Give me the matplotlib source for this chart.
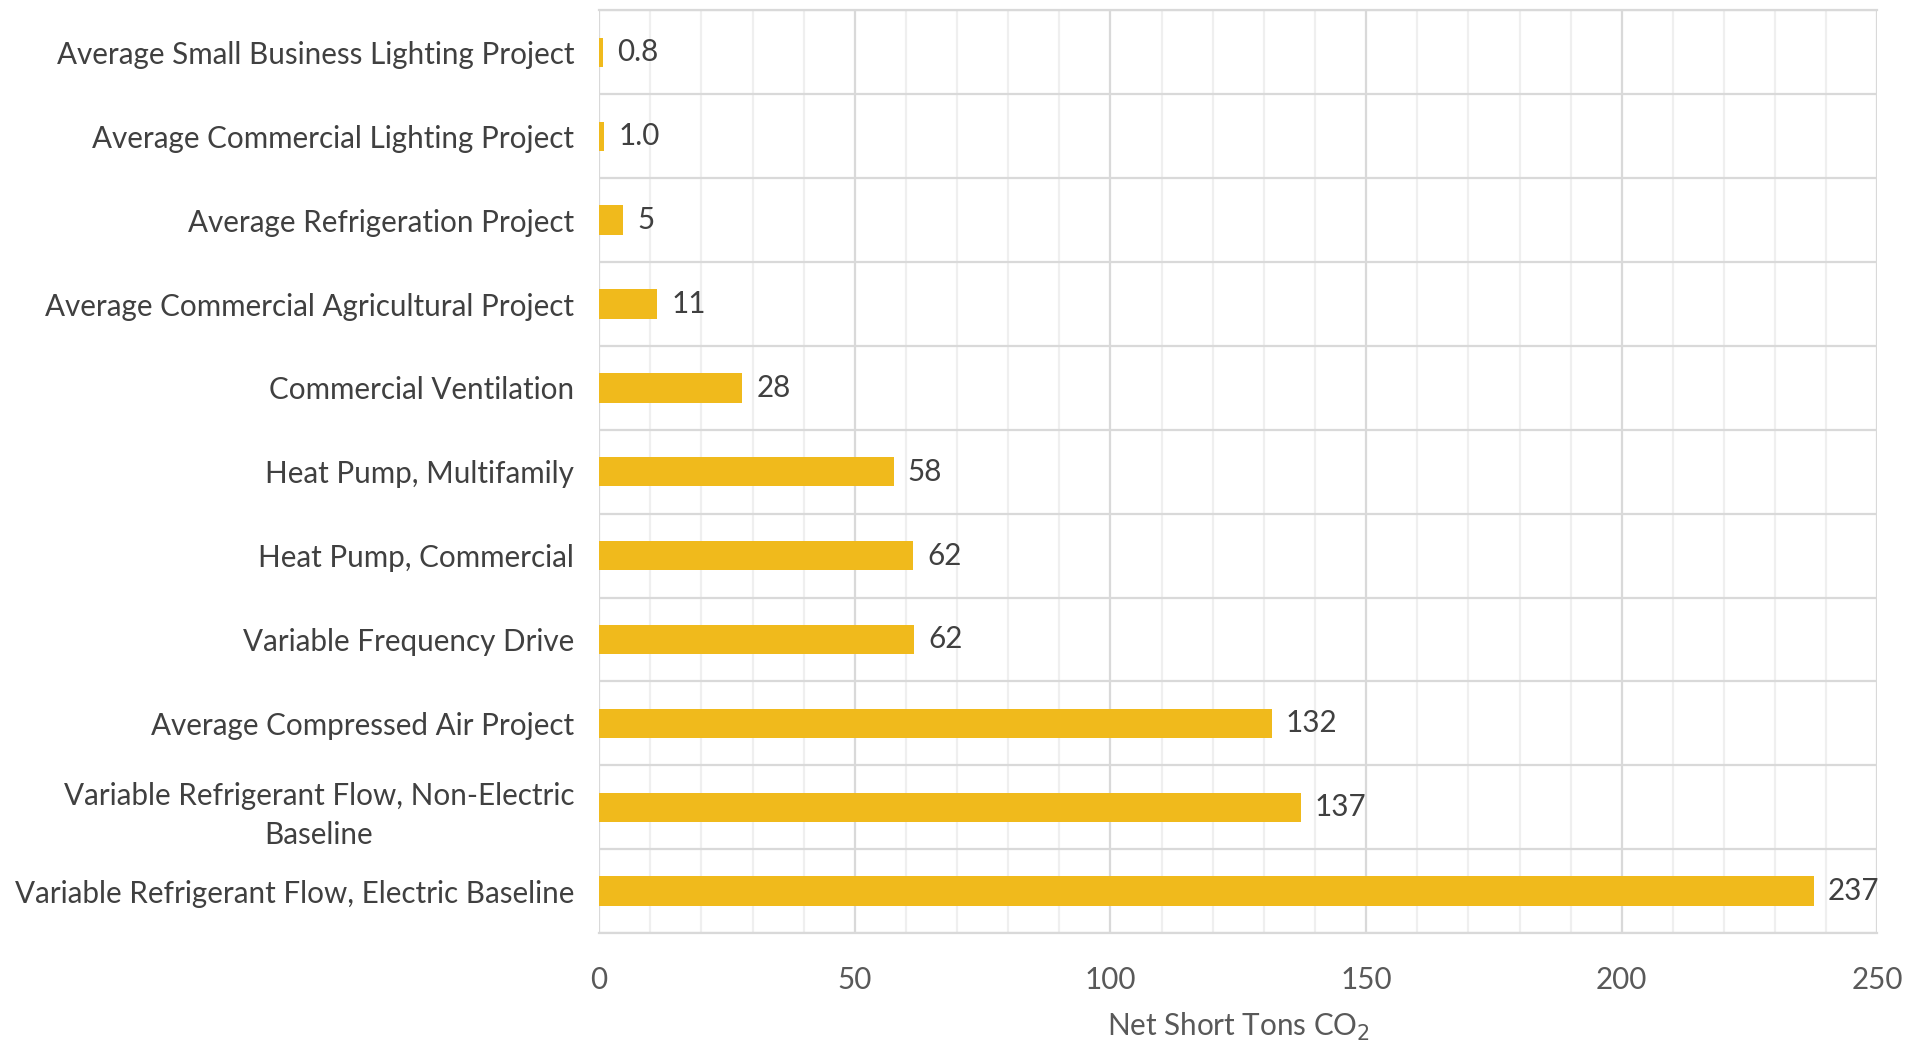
import matplotlib.pyplot as plt
import numpy as np

# data (top to bottom)
projects = [
    "Average Small Business Lighting Project",
    "Average Commercial Lighting Project",
    "Average Refrigeration Project",
    "Average Commercial Agricultural Project",
    "Commercial Ventilation",
    "Heat Pump, Multifamily",
    "Heat Pump, Commercial",
    "Variable Frequency Drive",
    "Average Compressed Air Project",
    "Variable Refrigerant Flow, Non-Electric\nBaseline",
    "Variable Refrigerant Flow, Electric Baseline",
]
tons = [0.8, 1.0, 4.7, 11.4, 28.0, 57.6, 61.4, 61.6, 131.5, 137.2, 237.5]
value_labels = ["0.8", "1.0", "5", "11", "28", "58", "62", "62", "132", "137", "237"]

plt.rcParams['font.family'] = ['Lato', 'DejaVu Sans']
text_col = '#404040'
fs = 21.3

fig = plt.figure(figsize=(19.08, 10.46), dpi=100)
ax = fig.add_axes([0.314, 0.108, 0.670, 0.882])

y = np.arange(len(projects))
bars = ax.barh(y, tons, height=0.35, color='#F0BA1C', zorder=3)
ax.bar_label(bars, labels=value_labels, padding=10, fontsize=fs, color=text_col)

ax.set_xlim(0, 250)
ax.set_ylim(len(projects) - 0.5, -0.5)

# gridlines: major every 50, minor every 10, horizontal at category edges
ax.set_xticks(np.arange(0, 251, 50))
ax.set_xticks(np.arange(0, 251, 10), minor=True)
ax.set_yticks(y)
ax.set_yticks(np.arange(-0.5, len(projects), 1), minor=True)
ax.grid(axis='x', which='major', color='#d9d9d9', linewidth=1.6, zorder=0)
ax.grid(axis='x', which='minor', color='#efefef', linewidth=1.6, zorder=0)
ax.grid(axis='y', which='minor', color='#d9d9d9', linewidth=1.6, zorder=0)

ax.set_yticklabels(projects, fontsize=fs, color=text_col,
                   multialignment='center', linespacing=1.5)
ax.tick_params(axis='both', which='both', length=0)
ax.tick_params(axis='y', pad=18)
ax.tick_params(axis='x', pad=24, labelsize=fs, labelcolor='#595959')

for s in ax.spines.values():
    s.set_visible(False)
for side in ('top', 'bottom'):
    ax.spines[side].set_visible(True)
    ax.spines[side].set_color('#d9d9d9')
    ax.spines[side].set_linewidth(1.6)

ax.set_xlabel('Net Short Tons CO$_2$', fontsize=fs, color='#595959', labelpad=12)

fig.savefig('out.png', dpi=100)
